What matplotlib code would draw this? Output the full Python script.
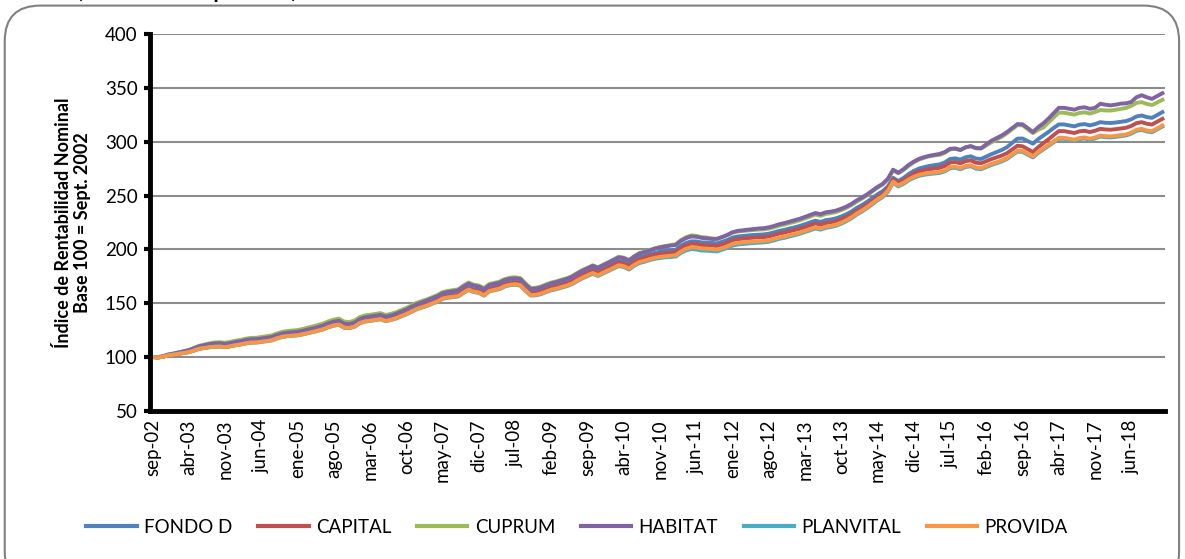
import matplotlib.pyplot as plt
from matplotlib.patches import FancyBboxPatch
from matplotlib.lines import Line2D

plt.rcParams['font.family'] = ['Lato', 'DejaVu Sans']

# meses en español para las etiquetas del eje x
meses = ['ene', 'feb', 'mar', 'abr', 'may', 'jun', 'jul', 'ago', 'sep', 'oct', 'nov', 'dic']
inicio_mes, inicio_anio = 8, 2002   # sep-02
n_meses = 196                       # sep-02 .. dic-18

fondo_d = [
    100.0, 99.6, 100.4, 101.6, 102.4, 103.2, 104.1, 104.9, 106.5, 108.1, 108.9, 109.7,
    110.1, 110.3, 109.7, 110.6, 111.6, 112.3, 113.4, 114.2, 114.3, 114.9, 115.6, 116.3,
    118.2, 119.6, 120.3, 120.7, 121.1, 122.1, 123.2, 124.2, 125.5, 126.9, 129.0, 130.4,
    131.2, 128.4, 128.2, 129.5, 132.8, 134.4, 135.1, 135.9, 136.6, 135.0, 136.0, 137.6,
    139.6, 141.5, 144.0, 146.3, 148.0, 149.6, 151.7, 153.5, 156.2, 157.3, 157.9, 158.6,
    161.8, 164.7, 162.9, 162.1, 159.6, 163.5, 164.7, 165.9, 168.3, 169.6, 170.0, 169.4,
    164.5, 160.2, 160.5, 161.7, 163.7, 165.5, 166.6, 168.2, 169.6, 171.6, 174.5, 177.2,
    179.5, 181.7, 179.7, 182.2, 184.4, 186.9, 189.3, 188.5, 186.4, 189.9, 192.6, 193.9,
    195.5, 196.8, 197.8, 198.5, 199.0, 199.6, 203.3, 205.9, 207.5, 207.4, 206.5, 206.4,
    206.0, 205.6, 207.1, 208.8, 211.0, 212.0, 212.5, 213.1, 213.4, 213.7, 213.9, 214.6,
    215.8, 217.2, 218.1, 219.4, 220.5, 221.8, 223.4, 225.1, 226.7, 225.5, 227.2, 227.8,
    228.9, 230.6, 232.7, 235.3, 238.6, 241.2, 244.3, 247.8, 251.2, 254.1, 258.5, 266.5,
    263.5, 266.3, 270.0, 272.9, 275.1, 276.4, 277.5, 278.3, 279.0, 280.8, 284.0, 284.6,
    283.4, 285.6, 286.5, 284.4, 284.0, 286.3, 288.5, 290.4, 292.4, 295.0, 299.0, 302.9,
    303.0, 300.6, 298.2, 302.4, 305.8, 309.1, 312.8, 316.1, 316.1, 315.2, 314.3, 315.9,
    316.4, 315.2, 316.4, 318.2, 317.6, 317.4, 317.9, 318.6, 319.2, 320.9, 323.5, 324.4,
    322.9, 322.2, 324.8, 327.5,
]

capital = [
    100.0, 99.6, 100.3, 101.5, 102.3, 103.1, 103.9, 104.7, 106.3, 107.8, 108.6, 109.4,
    109.8, 110.0, 109.4, 110.2, 111.2, 111.9, 113.1, 113.8, 113.9, 114.5, 115.2, 115.9,
    117.7, 119.1, 119.9, 120.3, 120.7, 121.6, 122.7, 123.7, 125.1, 126.5, 128.5, 129.9,
    130.7, 127.9, 127.7, 129.0, 132.2, 133.8, 134.4, 135.3, 136.0, 134.3, 135.3, 136.8,
    138.9, 140.8, 143.2, 145.5, 147.1, 148.8, 150.8, 152.6, 155.3, 156.3, 157.0, 157.6,
    160.8, 163.7, 161.9, 161.1, 158.5, 162.5, 163.7, 164.9, 167.3, 168.6, 169.0, 168.4,
    163.5, 159.2, 159.4, 160.5, 162.6, 164.3, 165.4, 166.9, 168.2, 170.2, 173.1, 175.8,
    178.0, 180.2, 178.1, 180.6, 182.9, 185.3, 187.7, 186.8, 184.7, 188.2, 190.9, 192.2,
    193.8, 195.0, 195.9, 196.5, 197.0, 197.5, 201.1, 203.6, 205.2, 205.0, 204.1, 204.0,
    203.5, 203.2, 204.6, 206.3, 208.5, 209.5, 210.0, 210.6, 210.9, 211.2, 211.4, 212.0,
    213.3, 214.7, 215.6, 216.9, 218.0, 219.3, 220.8, 222.5, 224.1, 222.9, 224.5, 225.2,
    226.3, 228.0, 230.1, 232.8, 236.0, 238.7, 241.8, 245.3, 248.8, 251.7, 256.6, 265.0,
    261.7, 264.2, 267.6, 270.5, 272.5, 273.7, 274.5, 275.2, 275.8, 277.5, 280.7, 281.2,
    279.9, 282.0, 282.7, 280.5, 280.0, 282.0, 283.9, 285.5, 287.2, 289.4, 292.9, 296.3,
    295.8, 293.1, 290.4, 294.9, 298.6, 302.3, 306.2, 309.9, 309.9, 309.0, 308.1, 309.7,
    310.2, 309.0, 310.2, 312.0, 311.4, 311.2, 311.7, 312.4, 313.0, 314.7, 317.3, 318.2,
    316.7, 316.0, 318.6, 321.3,
]

cuprum = [
    100.0, 99.9, 100.8, 102.3, 103.2, 104.3, 105.3, 106.5, 108.5, 110.5, 111.7, 112.8,
    113.6, 113.8, 113.3, 114.1, 115.2, 115.9, 117.1, 117.8, 117.9, 118.6, 119.3, 120.1,
    121.9, 123.4, 124.2, 124.7, 125.1, 126.1, 127.3, 128.4, 129.8, 131.3, 133.3, 134.8,
    135.7, 132.9, 132.6, 133.9, 137.1, 138.7, 139.3, 140.1, 140.8, 139.1, 140.1, 141.6,
    143.6, 145.6, 148.0, 150.4, 152.0, 153.7, 155.7, 157.6, 160.3, 161.4, 162.2, 162.9,
    166.3, 169.2, 167.3, 166.5, 163.9, 167.8, 168.9, 170.1, 172.5, 173.7, 174.1, 173.4,
    168.5, 164.1, 164.4, 165.5, 167.6, 169.3, 170.4, 171.9, 173.2, 175.2, 178.1, 180.8,
    183.0, 185.2, 183.3, 185.8, 188.1, 190.6, 193.1, 192.3, 190.2, 193.7, 196.6, 197.9,
    199.5, 201.1, 202.3, 203.2, 204.0, 204.8, 208.5, 211.3, 213.0, 212.6, 211.4, 211.0,
    210.2, 209.9, 211.5, 213.3, 215.5, 216.6, 217.1, 217.7, 218.0, 218.4, 218.6, 219.3,
    220.5, 222.0, 223.0, 224.4, 225.6, 227.0, 228.8, 230.6, 232.3, 231.2, 233.0, 233.7,
    234.7, 236.5, 238.6, 241.3, 244.5, 247.2, 250.3, 253.8, 257.4, 260.3, 265.1, 273.5,
    270.7, 273.7, 277.6, 280.9, 283.4, 285.1, 286.5, 287.2, 287.9, 289.7, 292.9, 293.4,
    292.2, 294.7, 295.7, 293.9, 293.7, 296.7, 299.5, 302.1, 304.7, 308.0, 311.7, 315.4,
    315.2, 311.7, 308.0, 311.1, 313.3, 317.8, 322.5, 327.0, 327.0, 326.1, 325.2, 326.8,
    327.3, 326.2, 327.6, 329.5, 329.1, 329.0, 329.7, 330.6, 331.4, 333.3, 336.1, 336.8,
    335.1, 334.1, 336.5, 339.0,
]

habitat = [
    100.0, 99.9, 100.8, 102.3, 103.2, 104.3, 105.3, 106.4, 108.2, 110.0, 111.0, 112.0,
    112.6, 112.8, 112.2, 113.0, 114.0, 114.7, 115.8, 116.5, 116.6, 117.2, 117.9, 118.6,
    120.4, 121.8, 122.6, 123.0, 123.5, 124.4, 125.6, 126.6, 127.9, 129.4, 131.4, 132.9,
    133.7, 130.9, 130.7, 132.0, 135.3, 136.9, 137.6, 138.4, 139.1, 137.5, 138.5, 140.1,
    142.1, 144.1, 146.6, 149.0, 150.7, 152.5, 154.6, 156.5, 159.3, 160.4, 161.2, 161.9,
    165.3, 168.2, 166.3, 165.5, 162.9, 166.8, 167.9, 169.1, 171.5, 172.7, 173.1, 172.4,
    167.5, 163.2, 163.5, 164.7, 166.7, 168.5, 169.6, 171.2, 172.6, 174.6, 177.5, 180.2,
    182.5, 184.7, 182.8, 185.3, 187.6, 190.1, 192.6, 191.8, 189.7, 193.2, 196.1, 197.4,
    199.0, 200.6, 201.8, 202.7, 203.5, 204.1, 207.8, 210.4, 212.0, 211.7, 210.7, 210.3,
    209.7, 209.7, 211.5, 213.5, 216.0, 217.2, 217.8, 218.5, 218.9, 219.4, 219.7, 220.5,
    221.8, 223.4, 224.4, 225.8, 227.1, 228.5, 230.2, 232.0, 233.8, 232.7, 234.5, 235.1,
    236.1, 237.8, 239.8, 242.4, 245.6, 248.2, 251.2, 254.7, 258.1, 260.9, 265.7, 274.0,
    271.3, 274.5, 278.5, 281.6, 284.1, 285.7, 287.0, 287.8, 288.7, 290.5, 293.5, 293.8,
    292.4, 294.9, 296.0, 294.1, 294.0, 297.6, 301.0, 303.4, 305.9, 309.0, 312.7, 316.4,
    316.2, 312.7, 309.0, 313.5, 317.1, 321.5, 326.5, 331.5, 331.5, 330.7, 329.8, 331.5,
    332.0, 330.6, 331.5, 335.3, 334.4, 333.8, 334.5, 335.4, 335.7, 337.0, 341.4, 343.2,
    341.3, 339.8, 342.4, 345.1,
]

planvital = [
    100.0, 99.6, 100.3, 101.5, 102.2, 103.0, 103.8, 104.5, 106.1, 107.6, 108.4, 109.1,
    109.5, 109.7, 109.1, 109.9, 110.9, 111.6, 112.6, 113.3, 113.4, 114.0, 114.7, 115.4,
    117.2, 118.6, 119.3, 119.7, 120.1, 121.0, 122.1, 123.1, 124.4, 125.8, 127.7, 129.1,
    129.9, 127.1, 126.8, 128.1, 131.3, 132.9, 133.5, 134.3, 135.0, 133.3, 134.3, 135.7,
    137.7, 139.6, 142.0, 144.3, 145.9, 147.5, 149.5, 151.3, 154.0, 155.0, 155.6, 156.2,
    159.4, 162.3, 160.4, 159.6, 157.0, 160.9, 162.0, 163.1, 165.5, 166.7, 167.1, 166.4,
    161.5, 157.1, 157.3, 158.4, 160.3, 162.0, 163.0, 164.5, 165.8, 167.7, 170.5, 173.1,
    175.3, 177.4, 175.3, 177.6, 179.8, 182.2, 184.5, 183.6, 181.3, 184.7, 187.3, 188.5,
    190.1, 191.2, 192.0, 192.6, 193.0, 193.3, 196.7, 199.0, 200.3, 199.9, 198.9, 198.8,
    198.4, 198.1, 199.7, 201.4, 203.5, 204.5, 205.0, 205.6, 205.9, 206.2, 206.5, 207.1,
    208.3, 209.8, 210.7, 212.0, 213.2, 214.5, 216.1, 217.8, 219.4, 218.3, 220.0, 220.8,
    222.0, 223.9, 226.2, 229.0, 232.4, 235.2, 238.4, 242.0, 245.6, 248.6, 253.5, 262.0,
    258.5, 260.8, 264.0, 266.5, 268.3, 269.3, 270.0, 270.5, 271.0, 272.5, 275.5, 275.8,
    274.4, 276.5, 277.2, 275.0, 274.5, 276.5, 278.4, 280.0, 281.7, 284.0, 287.5, 290.9,
    290.5, 288.0, 285.4, 289.5, 292.8, 296.0, 299.5, 302.7, 302.7, 301.8, 300.9, 302.5,
    303.0, 301.8, 303.0, 304.8, 304.2, 304.0, 304.5, 305.2, 305.8, 307.5, 310.1, 311.0,
    309.5, 308.8, 311.4, 314.1,
]

provida = [
    100.0, 99.6, 100.3, 101.5, 102.2, 103.0, 103.8, 104.6, 106.2, 107.7, 108.5, 109.2,
    109.6, 109.8, 109.2, 110.0, 111.0, 111.7, 112.8, 113.5, 113.6, 114.2, 114.9, 115.6,
    117.4, 118.8, 119.5, 119.9, 120.3, 121.2, 122.3, 123.3, 124.6, 126.0, 128.0, 129.4,
    130.2, 127.4, 127.1, 128.4, 131.6, 133.2, 133.8, 134.6, 135.3, 133.6, 134.6, 136.1,
    138.1, 140.0, 142.4, 144.7, 146.3, 147.9, 149.9, 151.7, 154.4, 155.4, 156.0, 156.6,
    159.8, 162.7, 160.8, 160.0, 157.4, 161.3, 162.4, 163.6, 166.0, 167.2, 167.6, 166.9,
    162.0, 157.6, 157.8, 158.9, 160.9, 162.6, 163.6, 165.1, 166.4, 168.3, 171.2, 173.8,
    176.0, 178.1, 176.0, 178.4, 180.6, 183.0, 185.3, 184.4, 182.2, 185.6, 188.3, 189.5,
    191.0, 192.2, 193.0, 193.6, 194.0, 194.5, 198.0, 200.5, 202.0, 201.8, 200.9, 200.7,
    200.2, 199.8, 201.2, 202.9, 205.0, 206.0, 206.5, 207.0, 207.3, 207.6, 207.8, 208.4,
    209.6, 211.0, 211.9, 213.2, 214.3, 215.6, 217.2, 218.9, 220.5, 219.3, 221.0, 221.8,
    223.0, 224.9, 227.2, 230.0, 233.4, 236.2, 239.4, 243.0, 246.6, 249.6, 254.5, 263.0,
    259.5, 261.8, 265.0, 267.5, 269.3, 270.3, 271.0, 271.5, 272.0, 273.5, 276.5, 276.8,
    275.4, 277.5, 278.2, 276.0, 275.5, 277.5, 279.4, 281.0, 282.7, 285.0, 288.5, 291.9,
    291.5, 289.0, 286.4, 290.5, 293.8, 297.0, 300.5, 303.7, 303.7, 302.8, 301.9, 303.5,
    304.0, 302.8, 304.0, 305.8, 305.2, 305.0, 305.5, 306.2, 306.8, 308.5, 311.1, 312.0,
    310.5, 309.8, 312.4, 315.1,
]

series = [
    ('FONDO D', fondo_d, '#4F81BD'),
    ('CAPITAL', capital, '#C0504D'),
    ('CUPRUM', cuprum, '#9BBB59'),
    ('HABITAT', habitat, '#8064A2'),
    ('PLANVITAL', planvital, '#4BACC6'),
    ('PROVIDA', provida, '#F79646'),
]

etiquetas = []
for i in range(n_meses):
    k = inicio_mes + i
    etiquetas.append('%s-%02d' % (meses[k % 12], (inicio_anio + k // 12) % 100))

fig = plt.figure(figsize=(11.85, 5.59), dpi=100)

# marco redondeado del área del gráfico
marco = FancyBboxPatch((0.004, -0.05), 0.991, 1.04, boxstyle='round,pad=0,rounding_size=0.03',
                       transform=fig.transFigure, facecolor='none', edgecolor='#808080',
                       linewidth=1.5, mutation_aspect=1185 / 559, zorder=-1)
fig.patches.append(marco)

# título cortado arriba (solo se ven los trazos inferiores)
fig.text(0.065, 1.003, '(Base 100 = Sept. 2002)', fontsize=15, fontweight='bold',
         va='baseline', ha='left')

ax = fig.add_axes([0.1266, 0.265, 0.8565, 0.674])
ax.patch.set_alpha(0)
x = list(range(n_meses))
for nombre, valores, color in series:
    ax.plot(x, valores, color=color, linewidth=2.8, label=nombre, solid_joinstyle='round')

ax.set_xlim(-0.5, n_meses - 0.5)
ax.set_ylim(50, 400)
ax.set_yticks(range(50, 401, 50))
ax.grid(axis='y', color='#8C8C8C', linewidth=1.5)
ax.set_axisbelow(True)
ax.set_xticks(x[::7])
ax.set_xticklabels(etiquetas[::7], rotation=90, fontsize=13.5)
ax.tick_params(axis='x', length=0, pad=6)
ax.tick_params(axis='y', labelsize=13.5, length=4, width=3, direction='out', pad=5)

for lado in ['top', 'right']:
    ax.spines[lado].set_visible(False)
ax.spines['left'].set_linewidth(3.5)
ax.spines['bottom'].set_linewidth(3.5)

ax.set_ylabel('Índice de Rentabilidad Nominal\nBase 100 = Sept. 2002', fontsize=13,
              fontweight='bold', labelpad=10, linespacing=1.1)

handles = [Line2D([0], [0], color=c, linewidth=3) for _, _, c in series]
fig.legend(handles, [n for n, _, _ in series], loc='center', bbox_to_anchor=(0.487, 0.057),
           ncol=6, frameon=False, fontsize=13.5, handlelength=2.7, columnspacing=1.35,
           handletextpad=0.4)

fig.savefig('out.png', dpi=100)
